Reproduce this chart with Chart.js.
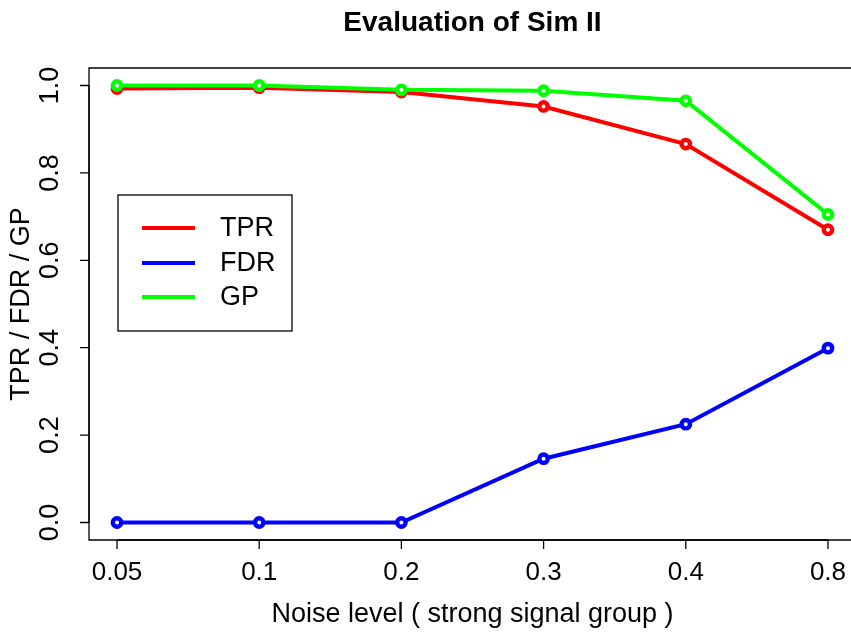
<!DOCTYPE html>
<html>
<head>
<meta charset="utf-8">
<title>Evaluation of Sim II</title>
<script src="https://cdn.jsdelivr.net/npm/chart.js@4.4.0/dist/chart.umd.min.js"></script>
<style>
  html, body { margin: 0; padding: 0; background: #fff; overflow: hidden; }
  canvas { display: block; }
</style>
</head>
<body>
<canvas id="simChart" width="851" height="633" style="width:851px;height:633px"></canvas>
<script>
// noise levels on the x axis (evenly spaced, drawn as positions 1..6)
const noiseLevels = ['0.05', '0.1', '0.2', '0.3', '0.4', '0.8'];
const yTicks = [0, 0.2, 0.4, 0.6, 0.8, 1.0];
const yTickLabels = ['0.0', '0.2', '0.4', '0.6', '0.8', '1.0'];

const tpr = [0.993, 0.995, 0.985, 0.952, 0.866, 0.670];
const fdr = [0.000, 0.000, 0.000, 0.146, 0.225, 0.399];
const gp  = [1.000, 1.000, 0.990, 0.988, 0.965, 0.705];

const seriesNames = ['TPR', 'FDR', 'GP'];
const seriesColors = ['#ff0000', '#0000ff', '#00ff00'];

const FONT = '"Liberation Sans", Arial, Helvetica, sans-serif';

function toPoints(values) {
  return values.map((v, i) => ({ x: i + 1, y: v }));
}

function makeDataset(label, values, color, order) {
  return {
    label: label,
    data: toPoints(values),
    borderColor: color,
    borderWidth: 4,
    pointRadius: 4.2,
    pointBorderWidth: 4.4,
    pointBorderColor: color,
    pointBackgroundColor: '#ffffff',
    pointHoverRadius: 4.2,
    tension: 0,
    order: order
  };
}

// base-graphics style frame, ticks, labels and legend
const rStyle = {
  id: 'rStyle',
  afterDatasetsDraw(chart) {
    const ctx = chart.ctx;
    const area = chart.chartArea;
    const xs = chart.scales.x;
    const ys = chart.scales.y;
    ctx.save();
    ctx.strokeStyle = '#000';
    ctx.fillStyle = '#000';
    ctx.lineWidth = 1.3;

    // plot box (right side runs past the canvas edge)
    ctx.beginPath();
    ctx.moveTo(area.right + 10, area.top);
    ctx.lineTo(area.left, area.top);
    ctx.lineTo(area.left, area.bottom);
    ctx.lineTo(area.right + 10, area.bottom);
    ctx.stroke();

    // x axis ticks and labels
    ctx.font = '26px ' + FONT;
    ctx.textAlign = 'center';
    ctx.textBaseline = 'middle';
    ctx.beginPath();
    ctx.moveTo(xs.getPixelForValue(1), area.bottom);
    ctx.lineTo(xs.getPixelForValue(noiseLevels.length), area.bottom);
    noiseLevels.forEach((lab, i) => {
      const px = xs.getPixelForValue(i + 1);
      ctx.moveTo(px, area.bottom);
      ctx.lineTo(px, area.bottom + 9);
    });
    ctx.stroke();
    noiseLevels.forEach((lab, i) => {
      ctx.fillText(lab, xs.getPixelForValue(i + 1), 573);
    });

    // y axis ticks and rotated labels
    ctx.beginPath();
    ctx.moveTo(area.left, ys.getPixelForValue(0));
    ctx.lineTo(area.left, ys.getPixelForValue(1));
    yTicks.forEach(v => {
      const py = ys.getPixelForValue(v);
      ctx.moveTo(area.left, py);
      ctx.lineTo(area.left - 9, py);
    });
    ctx.stroke();
    ctx.font = '27px ' + FONT;
    yTicks.forEach((v, i) => {
      ctx.save();
      ctx.translate(51, ys.getPixelForValue(v));
      ctx.rotate(-Math.PI / 2);
      ctx.fillText(yTickLabels[i], 0, 0);
      ctx.restore();
    });

    // axis titles
    const midX = (xs.getPixelForValue(1) + xs.getPixelForValue(noiseLevels.length)) / 2;
    ctx.font = '27px ' + FONT;
    ctx.fillText('Noise level ( strong signal group )', midX, 615);
    ctx.save();
    ctx.translate(22, (area.top + area.bottom) / 2);
    ctx.rotate(-Math.PI / 2);
    ctx.fillText('TPR / FDR / GP', 0, 0);
    ctx.restore();

    // main title
    ctx.font = 'bold 28px ' + FONT;
    ctx.fillText('Evaluation of Sim II', midX, 23);

    // legend
    ctx.fillStyle = '#fff';
    ctx.fillRect(118, 195, 174, 136);
    ctx.strokeRect(118, 195, 174, 136);
    const rows = [228, 263, 297];
    ctx.font = '27px ' + FONT;
    ctx.textAlign = 'left';
    seriesNames.forEach((name, i) => {
      ctx.strokeStyle = seriesColors[i];
      ctx.lineWidth = 4;
      ctx.beginPath();
      ctx.moveTo(142, rows[i]);
      ctx.lineTo(195, rows[i]);
      ctx.stroke();
      ctx.fillStyle = '#000';
      ctx.fillText(name, 220, rows[i] + 1);
    });
    ctx.restore();
  }
};

new Chart(document.getElementById('simChart'), {
  type: 'line',
  data: {
    datasets: [
      makeDataset(seriesNames[0], tpr, seriesColors[0], 3),
      makeDataset(seriesNames[1], fdr, seriesColors[1], 2),
      makeDataset(seriesNames[2], gp, seriesColors[2], 1)
    ]
  },
  options: {
    responsive: false,
    animation: false,
    layout: {
      autoPadding: false,
      padding: { left: 89, top: 68, right: 0, bottom: 93 }
    },
    scales: {
      x: { type: 'linear', min: 0.803, max: 6.162, display: false },
      y: { type: 'linear', min: -0.04, max: 1.04, display: false }
    },
    plugins: {
      legend: { display: false },
      title: { display: false },
      tooltip: { enabled: false }
    },
    elements: { line: { fill: false } }
  },
  plugins: [rStyle]
});
</script>
</body>
</html>
